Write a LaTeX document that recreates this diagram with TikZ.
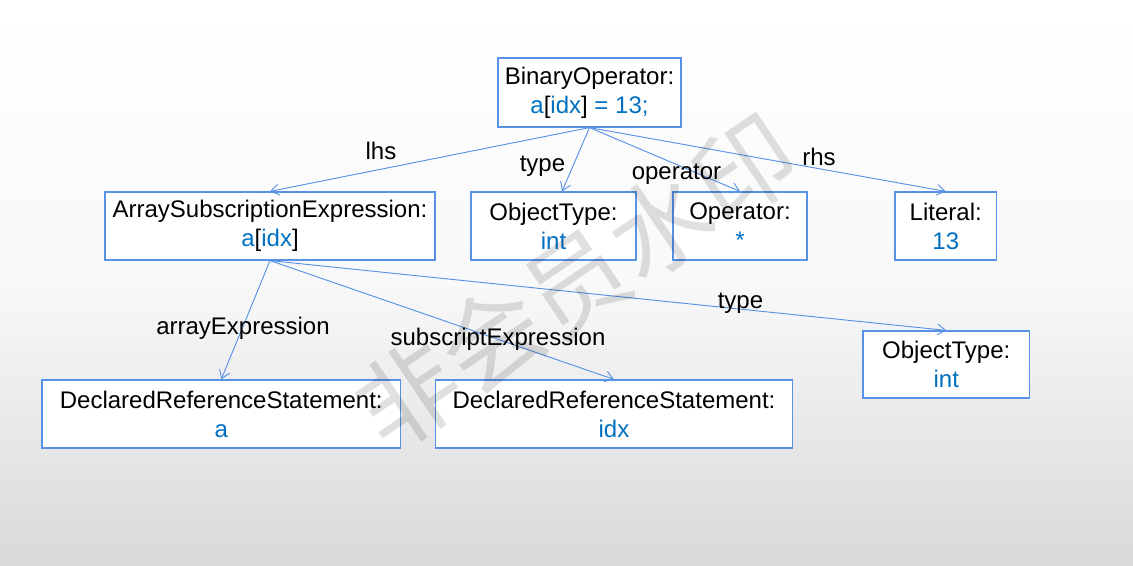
\documentclass[tikz,border=0pt]{standalone}
\usepackage{fontspec}
\setmainfont{Liberation Sans}
\newfontfamily\cjk{Noto Sans CJK SC}
\usetikzlibrary{arrows.meta}
\definecolor{boxblue}{RGB}{88,146,230}
\definecolor{txtblue}{RGB}{0,112,192}
\tikzset{
  treebox/.style={draw=boxblue, line width=0.9pt, fill=white, rectangle, inner sep=0pt,
    align=center, font=\fontsize{18}{21.75}\selectfont, text=black},
  edgearrow/.style={draw=boxblue, line width=0.7pt, -{Straight Barb[length=6pt,width=8pt]}},
  edgelabel/.style={anchor=base, inner sep=0pt, font=\fontsize{18}{21.6}\selectfont, text=black},
}
\newcommand{\bl}[1]{\textcolor{txtblue}{#1}}
\begin{document}
\begin{tikzpicture}[x=0.75pt,y=-0.75pt]
\shade[top color=white, bottom color=gray!30, middle color=white!95!gray] (0,0) rectangle (1133,566);
\useasboundingbox (0,0) rectangle (1133,566);

\node[treebox, minimum width=137.25pt, minimum height=51.75pt] (bin) at (589.5,92.5)
  {BinaryOperator:\\\bl{a}[\bl{idx}] \bl{= 13;}};
\node[treebox, minimum width=247.5pt, minimum height=51pt] (ase) at (270,226)
  {ArraySubscriptionExpression:\\\bl{a}[\bl{idx}]};
\node[treebox, minimum width=123.75pt, minimum height=51pt] (ot1) at (553.5,226)
  {ObjectType:\\\bl{int}};
\node[treebox, minimum width=100.5pt, minimum height=51pt] (op) at (740,226)
  {Operator:\\\bl{*}};
\node[treebox, minimum width=76.1pt, minimum height=51pt] (lit) at (945.75,226)
  {Literal:\\\bl{13}};
\node[treebox, minimum width=124.9pt, minimum height=50.25pt] (ot2) at (946.25,364.5)
  {ObjectType:\\\bl{int}};
\node[treebox, minimum width=268.9pt, minimum height=51pt] (dra) at (221.25,414)
  {DeclaredReferenceStatement:\\\bl{a}};
\node[treebox, minimum width=268.3pt, minimum height=51pt] (dri) at (614,414)
  {DeclaredReferenceStatement:\\\bl{idx}};

\draw[edgearrow] (bin.south) -- (ase.north);
\draw[edgearrow] (bin.south) -- ([xshift=6.4pt]ot1.north);
\draw[edgearrow] (bin.south) -- (op.north);
\draw[edgearrow] (bin.south) -- (lit.north);
\draw[edgearrow] (ase.south) -- (dra.north);
\draw[edgearrow] (ase.south) -- (dri.north);
\draw[edgearrow] (ase.south) -- (ot2.north);

\node[edgelabel] (l1) at (381,160) {lhs};
\node[edgelabel] (l2) at (542.5,171.5) {type};
\node[edgelabel] (l3) at (676.5,180) {operator};
\node[edgelabel] (l4) at (819,166) {rhs};
\node[edgelabel] (l5) at (740.5,309) {type};
\node[edgelabel] (l6) at (243,335) {arrayExpression};
\node[edgelabel] (l7) at (498,346) {subscriptExpression};

\node[rotate=34, text=black, text opacity=0.12, inner sep=0pt, font=\cjk\fontsize{76}{76}\selectfont] (wm) at (576,282) {非会员水印};
\end{tikzpicture}
\end{document}
